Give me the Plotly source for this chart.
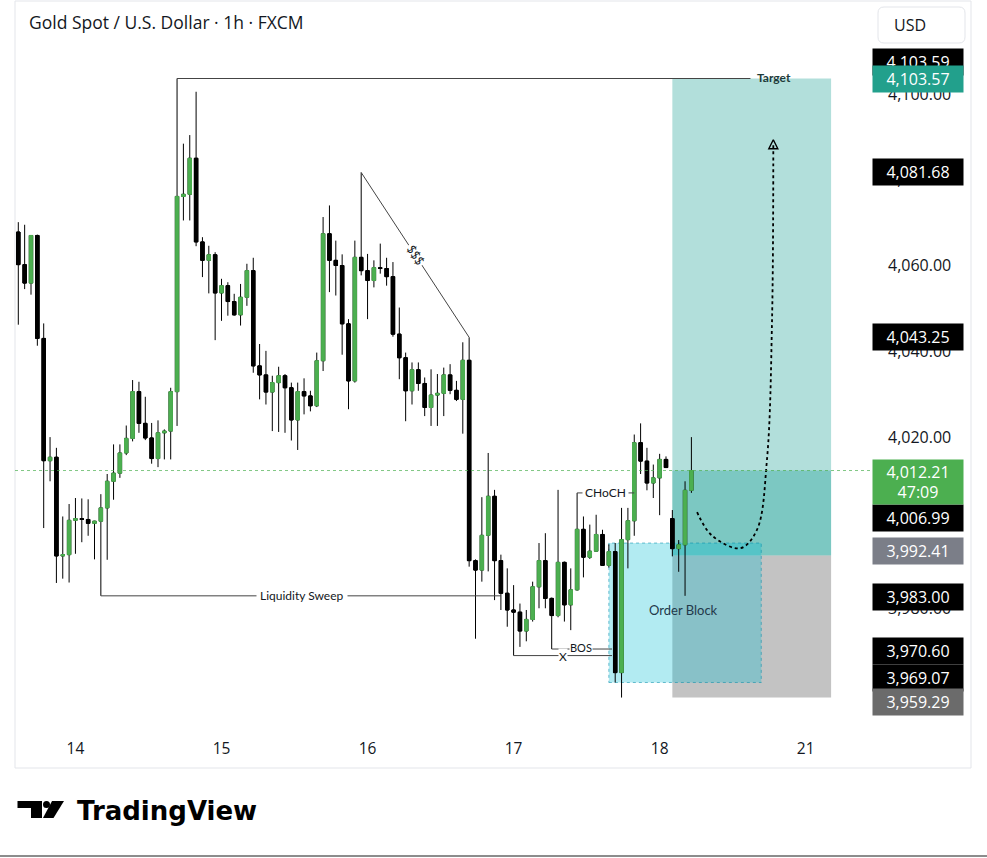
import plotly.graph_objects as go

W, H = 987, 858

# ---------------- data ----------------
opens = [4067.8, 4060.2, 4055.9, 4067.0, 4043.0, 4014.5, 4015.3, 3992.3, 3992.6, 4000.6,
         4001.0, 4000.8, 3999.9, 4000.4, 4003.5, 4009.7, 4011.6, 4016.3, 4019.7, 4030.6,
         4023.2, 4019.8, 4015.0, 4021.0, 4021.4, 4030.6, 4076.1, 4076.6, 4085.0, 4065.5,
         4061.2, 4062.5, 4053.6, 4055.3, 4051.6, 4048.5, 4052.6, 4058.8, 4036.6, 4034.5,
         4030.5, 4032.7, 4034.3, 4031.5, 4024.0, 4030.6, 4029.6, 4027.3, 4037.8, 4067.4,
         4061.2, 4060.0, 4046.4, 4033.1, 4061.9, 4058.8, 4056.5, 4059.5, 4059.3, 4057.4,
         4044.0, 4038.5, 4030.8, 4035.7, 4032.5, 4026.9, 4029.8, 4030.2, 4034.5, 4030.9,
         4028.8, 4037.9, 3991.2, 3989.0, 3997.1, 4006.2, 3991.2, 3983.6, 3979.7, 3979.2,
         3974.8, 3977.5, 3985.1, 3991.2, 3982.4, 3978.4, 3990.8, 3980.9, 3984.4, 3998.5,
         3992.0, 3993.4, 3997.3, 3990.1, 3993.3, 3965.1, 3996.1, 4000.5, 4018.7, 4014.4,
         4009.3, 4010.5, 4014.8, 4001.0, 3994.0, 3994.9, 4007.6]
highs = [4070.1, 4069.5, 4067.0, 4067.2, 4046.5, 4020.0, 4017.5, 4001.5, 4004.4, 4005.8,
         4005.7, 4005.5, 4000.5, 4006.7, 4011.4, 4018.3, 4018.3, 4022.7, 4033.3, 4032.9,
         4029.4, 4023.3, 4023.9, 4021.8, 4031.5, 4103.59, 4088.4, 4090.4, 4100.5, 4066.6,
         4064.6, 4063.1, 4056.9, 4056.1, 4053.4, 4055.7, 4060.4, 4061.8, 4041.7, 4040.1,
         4034.3, 4036.4, 4034.7, 4032.7, 4032.7, 4033.7, 4030.8, 4039.7, 4071.3, 4074.0,
         4065.8, 4062.6, 4047.5, 4065.8, 4081.68, 4062.7, 4061.2, 4065.1, 4061.8, 4060.8,
         4050.2, 4039.7, 4037.4, 4037.4, 4033.9, 4035.8, 4034.7, 4036.2, 4037.0, 4033.1,
         4042.1, 4043.25, 3991.5, 4006.0, 4016.3, 4007.7, 3992.6, 3989.4, 3985.5, 3981.2,
         3979.7, 3986.3, 3995.3, 3997.6, 3982.6, 4007.7, 3991.0, 3989.4, 4006.99, 4001.5,
         3999.6, 4001.9, 3998.4, 3995.0, 3995.3, 4003.5, 4003.5, 4020.6, 4023.2, 4017.5,
         4013.6, 4016.1, 4015.5, 4003.0, 3996.0, 4009.7, 4020.0]
lows = [4046.2, 4054.5, 4053.2, 4041.3, 3998.8, 4009.7, 3986.0, 3987.0, 3986.1, 3992.8,
        3995.5, 3997.0, 3991.5, 3983.0, 3991.4, 4005.4, 4010.5, 4015.8, 4019.0, 4021.0,
        4019.3, 4013.8, 4013.0, 4014.8, 4014.8, 4022.6, 4070.5, 4070.5, 4064.5, 4057.3,
        4053.5, 4042.6, 4047.1, 4048.3, 4048.3, 4046.0, 4050.6, 4035.0, 4028.8, 4027.6,
        4021.4, 4021.2, 4021.0, 4019.2, 4017.0, 4025.3, 4026.0, 4027.0, 4035.4, 4053.8,
        4053.0, 4039.2, 4026.5, 4032.7, 4057.7, 4047.5, 4054.9, 4058.1, 4055.3, 4043.4,
        4033.5, 4023.7, 4027.6, 4030.8, 4024.9, 4022.6, 4022.6, 4024.9, 4030.0, 4028.4,
        4020.8, 3989.8, 3973.0, 3986.3, 3988.7, 3982.0, 3979.7, 3975.8, 3969.07, 3971.1,
        3972.4, 3977.0, 3980.1, 3980.1, 3970.60, 3978.0, 3977.0, 3975.0, 3984.2, 3987.3,
        3991.6, 3993.3, 3990.0, 3989.6, 3962.8, 3959.29, 3989.4, 3997.0, 4011.4, 4007.6,
        4005.8, 4001.8, 4012.8, 3992.2, 3988.6, 3983.0, 4007.0]
closes = [4060.2, 4055.9, 4067.0, 4043.0, 4014.5, 4015.3, 3992.3, 3992.6, 4000.6, 4001.0,
          4000.8, 3999.9, 4000.4, 4003.5, 4009.7, 4011.6, 4016.3, 4019.7, 4030.6, 4023.2,
          4019.8, 4015.0, 4021.0, 4021.4, 4030.6, 4076.1, 4076.6, 4085.0, 4065.5, 4061.2,
          4062.5, 4053.6, 4055.3, 4051.6, 4048.5, 4052.6, 4058.8, 4036.6, 4034.5, 4030.5,
          4032.7, 4034.3, 4031.5, 4024.0, 4030.6, 4029.6, 4027.3, 4037.8, 4067.4, 4061.2,
          4060.0, 4046.4, 4033.1, 4061.9, 4058.8, 4056.5, 4059.5, 4059.3, 4057.4, 4044.0,
          4038.5, 4030.8, 4035.7, 4032.5, 4026.9, 4029.8, 4030.2, 4034.5, 4030.9, 4028.8,
          4037.9, 3991.2, 3989.0, 3997.1, 4006.2, 3991.2, 3983.6, 3979.7, 3979.2, 3974.8,
          3977.5, 3985.1, 3991.2, 3982.4, 3978.4, 3990.8, 3980.9, 3984.4, 3998.5, 3992.0,
          3993.4, 3997.3, 3990.1, 3993.3, 3965.1, 3996.1, 4000.5, 4018.7, 4014.4, 4009.3,
          4010.5, 4014.8, 4012.9, 3994.0, 3994.9, 4007.6, 4012.21]
candle_idx = list(range(len(opens)))

day_tick_idx = [9, 32, 55, 78, 101, 124]
day_tick_labels = ["14", "15", "16", "17", "18", "21"]
price_ticks = [3960, 3980, 4000, 4020, 4040, 4060, 4080, 4100]

entry_price = 3992.41
target_price = 4103.57
stop_price = 3959.29
current_price = 4012.21
countdown = "47:09"
position_idx = [103, 128]

ob_idx = [93, 117]
ob_high, ob_low = 3995.3, 3962.8

target_level = 4103.59
target_line_idx = [25, 115.3]
sss_idx = [54, 71]
sss_prices = [4081.68, 4043.25]
liq_level = 3983.00
liq_idx = [13, 76]
bos_level = 3970.60
bos_idx = [84, 93.5]
x_level = 3969.07
x_idx = [78, 93.5]
choch_level = 4006.99
choch_idx = [88, 97]

arrow_idx = [106.9, 109.2, 113.7, 116.3, 117.9, 118.7, 118.9]
arrow_price = [4002.5, 3997.1, 3994.1, 3998.3, 4014.7, 4047.3, 4088.1]

label_prices = [4103.59, 4103.57, 4081.68, 4043.25, 4006.99, 3992.41, 3983.00, 3970.60, 3969.07, 3959.29]
label_colors = ["#000000", "#22a08c", "#000000", "#000000", "#000000", "#7b7e88",
                "#000000", "#000000", "#000000", "#6b6b6b"]
label_shift = [17, 0, 0, 0, -25, 4, -1, -2, -22, -4]

# ---------------- geometry ----------------
L, R, T, B = 15, 870, 45, 735
X0, DX = 18.3, 6.35          # pixel centre of first candle, spacing
Y4060, PPU = 265.5, 4.29     # pixel of 4060, pixels per price unit


def fx(x):
    return x / W


def fy(y):
    return 1 - y / H


xr = [(L - X0) / DX, (R - X0) / DX]
yr = [4060 - (B - Y4060) / PPU, 4060 + (Y4060 - T) / PPU]

GREEN = "#4caf50"
TXT = "#131722"
FONT = "Open Sans"

fig = go.Figure()

# full candles: black wicks for every bar
fig.add_trace(go.Candlestick(
    x=candle_idx, open=opens, high=highs, low=lows, close=closes,
    increasing=dict(line=dict(color="#000000", width=1), fillcolor=GREEN),
    decreasing=dict(line=dict(color="#000000", width=1), fillcolor="#000000"),
    whiskerwidth=0, hoverinfo="skip", showlegend=False,
))
# green bodies drawn again (bodies only) so bullish bars have no dark outline
body_top = [max(o, c) for o, c in zip(opens, closes)]
body_bot = [min(o, c) for o, c in zip(opens, closes)]
fig.add_trace(go.Candlestick(
    x=candle_idx, open=opens, high=body_top, low=body_bot, close=closes,
    increasing=dict(line=dict(color=GREEN, width=1), fillcolor=GREEN),
    decreasing=dict(line=dict(color="#000000", width=1), fillcolor="#000000"),
    whiskerwidth=0, hoverinfo="skip", showlegend=False,
))

# curved dotted arrow
fig.add_trace(go.Scatter(
    x=arrow_idx, y=arrow_price, mode="lines",
    line=dict(color="#000000", width=1.8, dash="dot", shape="spline"),
    hoverinfo="skip", showlegend=False,
))
fig.add_trace(go.Scatter(
    x=[arrow_idx[-1]], y=[arrow_price[-1] + 1.2], mode="markers",
    marker=dict(symbol="arrow-up-open", size=9, color="#000000", line=dict(width=1.4)),
    hoverinfo="skip", showlegend=False,
))

shapes = []
shapes.append(dict(type="rect", xref="x", yref="y", x0=position_idx[0], x1=position_idx[1],
                   y0=entry_price, y1=target_price, fillcolor="rgba(0,150,136,0.30)",
                   line=dict(width=0), layer="below"))
shapes.append(dict(type="rect", xref="x", yref="y", x0=position_idx[0], x1=position_idx[1],
                   y0=entry_price, y1=current_price, fillcolor="rgba(0,150,136,0.30)",
                   line=dict(width=0), layer="below"))
shapes.append(dict(type="rect", xref="x", yref="y", x0=position_idx[0], x1=position_idx[1],
                   y0=stop_price, y1=entry_price, fillcolor="rgba(140,140,140,0.52)",
                   line=dict(width=0), layer="below"))
shapes.append(dict(type="rect", xref="x", yref="y", x0=ob_idx[0], x1=ob_idx[1],
                   y0=ob_low, y1=ob_high, fillcolor="rgba(0,188,212,0.30)",
                   line=dict(width=1, color="rgba(0,140,170,0.55)", dash="dot"), layer="below"))

LC = "#444444"
shapes.append(dict(type="line", xref="x", yref="y", x0=target_line_idx[0], x1=target_line_idx[1],
                   y0=target_level, y1=target_level, line=dict(color=LC, width=1)))
shapes.append(dict(type="line", xref="x", yref="y", x0=sss_idx[0], x1=sss_idx[1],
                   y0=sss_prices[0], y1=sss_prices[1], line=dict(color=LC, width=1)))
shapes.append(dict(type="line", xref="x", yref="y", x0=liq_idx[0], x1=liq_idx[1],
                   y0=liq_level, y1=liq_level, line=dict(color=LC, width=1)))
for (a, b), lv in ((bos_idx, bos_level), (x_idx, x_level), (choch_idx, choch_level)):
    shapes.append(dict(type="line", xref="x", yref="y", x0=a, x1=b, y0=lv, y1=lv,
                       line=dict(color=LC, width=1)))
shapes.append(dict(type="line", xref="x domain", yref="y", x0=0, x1=1, y0=current_price,
                   y1=current_price, line=dict(color="rgba(76,175,80,0.7)", width=1, dash="dot")))

shapes.append(dict(type="rect", xref="paper", yref="paper", x0=fx(15), x1=fx(971), y0=fy(768), y1=fy(1),
                   line=dict(color="#e3e5ea", width=1), fillcolor="rgba(0,0,0,0)", layer="below"))
shapes.append(dict(type="line", xref="paper", yref="paper", x0=0, x1=1, y0=fy(856), y1=fy(856),
                   line=dict(color="#8c8c8c", width=2)))


def rrect(x0, y0, x1, y1, r):
    return (f"M {fx(x0 + r)},{fy(y0)} L {fx(x1 - r)},{fy(y0)} Q {fx(x1)},{fy(y0)} {fx(x1)},{fy(y0 + r)} "
            f"L {fx(x1)},{fy(y1 - r)} Q {fx(x1)},{fy(y1)} {fx(x1 - r)},{fy(y1)} "
            f"L {fx(x0 + r)},{fy(y1)} Q {fx(x0)},{fy(y1)} {fx(x0)},{fy(y1 - r)} "
            f"L {fx(x0)},{fy(y0 + r)} Q {fx(x0)},{fy(y0)} {fx(x0 + r)},{fy(y0)} Z")


shapes.append(dict(type="path", xref="paper", yref="paper", path=rrect(878, 7, 965, 43, 6),
                   line=dict(color="#e3e5ea", width=1), fillcolor="white"))

shapes.append(dict(type="path", xref="paper", yref="paper",
                   path=f"M {fx(17.5)},{fy(801)} L {fx(42)},{fy(801)} L {fx(42)},{fy(818)} "
                        f"L {fx(31)},{fy(818)} L {fx(31)},{fy(808)} L {fx(17.5)},{fy(808)} Z",
                   fillcolor="#000000", line=dict(width=0)))
shapes.append(dict(type="circle", xref="paper", yref="paper", x0=fx(43), x1=fx(50),
                   y0=fy(808), y1=fy(801), fillcolor="#000000", line=dict(width=0)))
shapes.append(dict(type="path", xref="paper", yref="paper",
                   path=f"M {fx(52)},{fy(801)} L {fx(64)},{fy(801)} L {fx(53.5)},{fy(818)} "
                        f"L {fx(43)},{fy(818)} Z",
                   fillcolor="#000000", line=dict(width=0)))

ann = []
ann.append(dict(xref="paper", yref="paper", x=fx(27), y=fy(22), xanchor="left", yanchor="middle",
                text="Gold Spot / U.S. Dollar · 1h · FXCM", showarrow=False,
                font=dict(family=FONT, size=17.5, color=TXT)))
ann.append(dict(xref="paper", yref="paper", x=fx(892), y=fy(25), xanchor="left", yanchor="middle",
                text="USD", showarrow=False, font=dict(family=FONT, size=16, color=TXT)))
ann.append(dict(xref="paper", yref="paper", x=fx(75), y=fy(811), xanchor="left", yanchor="middle",
                text="<b>TradingView</b>", showarrow=False,
                font=dict(family="DejaVu Sans", size=26, color="#000000")))

DF = "Lato"
ann.append(dict(xref="x", yref="y", x=119, y=target_level, text="<b>Target</b>", showarrow=False,
                font=dict(family=DF, size=12, color="#1d3b3a"), yshift=1))
sss_mid_x = (sss_idx[0] + sss_idx[1]) / 2
sss_mid_y = (sss_prices[0] + sss_prices[1]) / 2
ann.append(dict(xref="x", yref="y", x=sss_mid_x, y=sss_mid_y, text="$$$", showarrow=False,
                textangle=56.8, bgcolor="white", borderpad=1,
                font=dict(family=DF, size=12, color=TXT)))
ann.append(dict(xref="x", yref="y", x=44.7, y=liq_level, text="Liquidity Sweep", showarrow=False,
                bgcolor="white", borderpad=3, font=dict(family=DF, size=12, color=TXT)))
ann.append(dict(xref="x", yref="y", x=92.4, y=choch_level, text="CHoCH", showarrow=False,
                bgcolor="white", borderpad=2, font=dict(family=DF, size=12, color=TXT)))
ann.append(dict(xref="x", yref="y", x=85.8, y=x_level, text="X", showarrow=False,
                bgcolor="white", borderpad=0, font=dict(family=DF, size=12, color=TXT), yshift=-1))
ann.append(dict(xref="x", yref="y", x=88.6, y=bos_level, text="BOS", showarrow=False,
                bgcolor="white", borderpad=0, font=dict(family=DF, size=11, color=TXT), yshift=2))
ann.append(dict(xref="x", yref="y", x=104.7, y=3979.7, text="Order Block", showarrow=False,
                font=dict(family=DF, size=13, color="#23394a")))

for p, c, s in zip(label_prices, label_colors, label_shift):
    ann.append(dict(xref="paper", yref="y", x=fx(872), y=p, xanchor="left", yanchor="middle",
                    text=f"{p:,.2f}", showarrow=False, bgcolor=c, width=86, height=22,
                    align="center", borderpad=2, yshift=s,
                    font=dict(family=FONT, size=16, color="white")))
ann.append(dict(xref="paper", yref="y", x=fx(872), y=current_price, xanchor="left", yanchor="top",
                text=f"{current_price:,.2f}<br>{countdown}", showarrow=False, bgcolor=GREEN,
                width=86, height=40, align="center", borderpad=2, yshift=12,
                font=dict(family=FONT, size=16, color="white")))

fig.update_layout(
    width=W, height=H, margin=dict(l=0, r=0, t=0, b=0),
    paper_bgcolor="white", plot_bgcolor="white",
    showlegend=False, boxgap=0.22, boxmode="overlay",
    xaxis=dict(domain=[fx(L), fx(R)], range=xr, rangeslider=dict(visible=False),
               tickvals=day_tick_idx, ticktext=day_tick_labels, showgrid=False, zeroline=False,
               showline=False, ticks="", ticklabelstandoff=2,
               tickfont=dict(family=FONT, size=15.5, color=TXT)),
    yaxis=dict(domain=[fy(B), fy(T)], range=yr, side="right", tickvals=price_ticks,
               ticktext=[f"{v:,.2f}" for v in price_ticks], showgrid=False, zeroline=False,
               showline=False, ticks="", ticklabelstandoff=17,
               tickfont=dict(family=FONT, size=16, color=TXT)),
    shapes=shapes, annotations=ann,
)

fig.write_html("out.html", config={"displayModeBar": False},
               post_script="document.body.style.margin='0';document.body.style.overflow='hidden';")
